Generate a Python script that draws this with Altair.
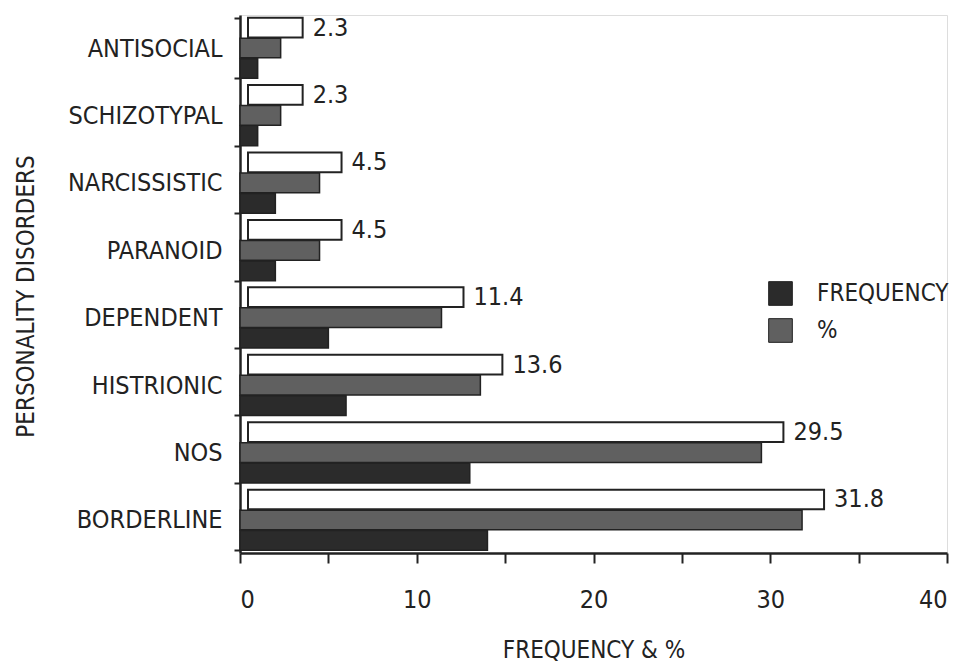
import altair as alt
import pandas as pd

categories = ["ANTISOCIAL", "SCHIZOTYPAL", "NARCISSISTIC", "PARANOID",
              "DEPENDENT", "HISTRIONIC", "NOS", "BORDERLINE"]
frequency = [1, 1, 2, 2, 5, 6, 13, 14]
percent = [2.3, 2.3, 4.5, 4.5, 11.4, 13.6, 29.5, 31.8]
x_ticks = [0, 5, 10, 15, 20, 25, 30, 35, 40]

rows = []
for c, f, p in zip(categories, frequency, percent):
    rows.append({"cat": c, "part": "top", "series": "top", "value": p, "base": 0, "label": f"{p:.1f}"})
    rows.append({"cat": c, "part": "pct", "series": "%", "value": p, "base": 0, "label": ""})
    rows.append({"cat": c, "part": "freq", "series": "FREQUENCY", "value": f, "base": 0, "label": ""})
df = pd.DataFrame(rows)

FONT = "Liberation Sans Narrow, DejaVu Sans Condensed, Liberation Sans"

yenc = alt.Y("cat:N", sort=categories,
             scale=alt.Scale(paddingInner=0.1, paddingOuter=0.04),
             axis=alt.Axis(title="PERSONALITY DISORDERS", titleAngle=-90,
                           titleX=-214, titleY=281, titleAlign="center",
                           titleBaseline="middle", titleFontSize=24,
                           titleFontWeight="normal", titleFont=FONT, titleColor="#222",
                           labelFont=FONT, labelFontSize=25, labelColor="#222",
                           labelPadding=12, tickSize=6, tickWidth=2,
                           tickColor="#222", tickBand="extent",
                           domainColor="#222", domainWidth=2.5))
yoff = alt.YOffset("part:N", scale=alt.Scale(domain=["top", "pct", "freq"], paddingInner=0.04))
xscale = alt.Scale(domain=[0, 40], nice=False)

base = alt.Chart(df)

bars = base.transform_filter("datum.part != 'top'").mark_bar(
    stroke="#222", strokeWidth=1.5
).encode(
    x=alt.X("value:Q", scale=xscale,
            axis=alt.Axis(title="FREQUENCY & %", values=x_ticks,
                          labelExpr="datum.value % 10 == 0 ? datum.label : ''",
                          titleFont=FONT, titleFontSize=24, titleFontWeight="normal",
                          titleY=97, titleBaseline="middle", titleColor="#222",
                          labelFont=FONT, labelFontSize=25, labelColor="#222",
                          labelPadding=24, tickSize=10, tickWidth=2,
                          tickColor="#222", domainColor="#222", domainWidth=2.5,
                          grid=False)),
    x2="base:Q",
    y=yenc,
    yOffset=yoff,
    fill=alt.Fill("series:N",
                  scale=alt.Scale(domain=["FREQUENCY", "%"], range=["#2b2b2b", "#606060"]),
                  legend=alt.Legend(title=None, orient="none", legendX=528, legendY=266,
                                    symbolType="square", symbolSize=560,
                                    symbolStrokeColor="#222", symbolStrokeWidth=1,
                                    labelFont=FONT, labelFontSize=24, labelColor="#222",
                                    labelOffset=24, rowPadding=8)),
)

top = base.transform_filter("datum.part == 'top'").mark_bar(
    fill="white", stroke="#222", strokeWidth=2, xOffset=22, x2Offset=8
).encode(
    x=alt.X("value:Q", scale=xscale),
    x2="base:Q",
    y=alt.Y("cat:N", sort=categories),
    yOffset=yoff,
)

labels = base.transform_filter("datum.part == 'top'").mark_text(
    align="left", baseline="middle", dx=32, font=FONT, fontSize=25, color="#222"
).encode(
    x=alt.X("value:Q", scale=xscale),
    y=alt.Y("cat:N", sort=categories),
    yOffset=yoff,
    text="label:N",
)

chart = alt.layer(top, bars, labels).properties(
    width=707, height=538,
    autosize=alt.AutoSizeParams(type="none"),
    padding={"left": 232, "top": 7, "right": 11, "bottom": 107},
).configure_view(stroke=None).configure(background="white")

chart = chart.properties(padding={"left": 232, "top": 7, "right": 11, "bottom": 115})

chart.save("out.html", embed_options={"renderer": "svg", "actions": False})
